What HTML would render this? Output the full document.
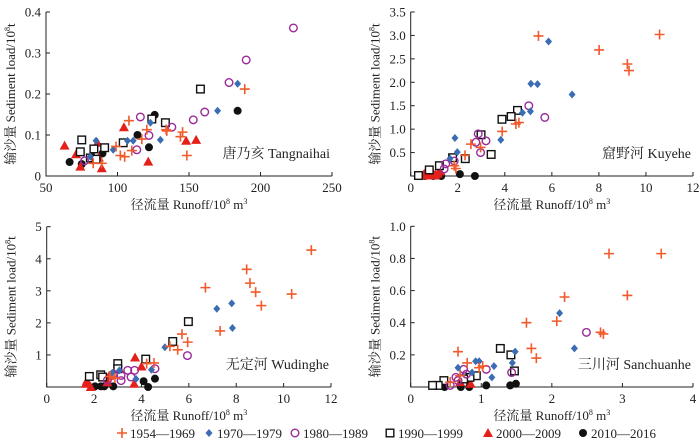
<!DOCTYPE html>
<html><head><meta charset="utf-8"><style>
html,body{margin:0;padding:0;background:#fff;}
svg{display:block;font-family:"Liberation Serif","Noto Serif CJK SC",serif;}
</style></head><body>
<svg id="chart" width="700" height="442" viewBox="0 0 700 442" xmlns="http://www.w3.org/2000/svg"></svg>
<script>
// ---- Panel 1: Tangnaihai ----
const tnX1954=[108,99,102,105,110,117,120.5,134,134.5,144,145.5,148.5,189,89,83];
const tnY1954=[0.135,0.072,0.05,0.047,0.062,0.09,0.113,0.113,0.11,0.096,0.107,0.05,0.212,0.031,0.031];
const tnX1970=[184,170,130,123,111,107,97,85,81];
const tnY1970=[0.225,0.159,0.088,0.13,0.086,0.086,0.064,0.086,0.047];
const tnX1980=[223,190,178,161,153,138,122,116,113.5,77];
const tnY1980=[0.361,0.283,0.228,0.156,0.137,0.119,0.099,0.144,0.064,0.037];
const tnX1990=[158,133.5,124,104,91,83.5,81,85,75,74];
const tnY1990=[0.212,0.13,0.139,0.081,0.069,0.066,0.044,0.041,0.088,0.059];
const tnX2000=[63,71,74,86,87,89,104.5,121.5,148,155];
const tnY2000=[0.074,0.053,0.023,0.081,0.045,0.019,0.119,0.035,0.086,0.088];
const tnX2010=[66.5,75,89.5,114,122,126,184];
const tnY2010=[0.034,0.029,0.055,0.1,0.07,0.149,0.159];
// ---- Panel 2: Kuyehe ----
const kyX1954=[5.43,10.58,8.01,9.21,9.28,3.89,4.47,4.6,2.56,2.97,2.31,1.85,1.92];
const kyY1954=[2.99,3.02,2.69,2.39,2.25,0.95,1.11,1.14,0.68,0.61,0.44,0.22,0.16];
const kyX1970=[5.86,5.11,5.39,6.86,5.09,4.75,3.83,1.88,1.98,1.67];
const kyY1970=[2.87,1.97,1.96,1.74,1.38,1.35,0.77,0.81,0.51,0.37];
const kyX1980=[5.02,5.7,2.87,2.77,3.2,2.97,1.85,1.49,1.42];
const kyY1980=[1.5,1.25,0.9,0.72,0.75,0.5,0.32,0.26,0.15];
const kyX1990=[4.54,4.27,3.88,2.99,3.42,2.32,1.78,1.22,0.79,0.33];
const kyY1990=[1.4,1.27,1.21,0.88,0.46,0.37,0.39,0.22,0.13,0.01];
const kyX2000=[0.55,0.65,0.75,0.85,0.95,1.05,1.15,1.25,0.6,1.0];
const kyY2000=[0.03,0.01,0.04,0.02,0.06,0.03,0.05,0.1,0.05,0.01];
const kyX2010=[2.09,2.73,1.3,0.96,0.6];
const kyY2010=[0.04,0,0,0,0];
// ---- Panel 3: Wudinghe ----
const wdX1954=[11.17,8.44,8.58,8.82,9.06,10.34,6.7,7.32,5.71,5.95,5.53,5.2,4.53,4.22,2.88,2.67];
const wdY1954=[4.27,3.67,3.24,2.96,2.54,2.9,3.1,1.75,1.65,1.4,1.16,1.27,0.75,0.73,0.28,0.33];
const wdX1970=[7.81,7.18,7.84,4.99,4.42,3.77,3.07,2.77];
const wdY1970=[2.61,2.44,1.84,1.24,0.54,0.25,0.52,0.44];
const wdX1980=[5.94,4.57,3.71,3.42,3.14,3.14,3.56,2.81,2.56];
const wdY1980=[0.98,0.57,0.52,0.52,0.36,0.2,0.31,0.4,0.21];
const wdX1990=[5.98,5.32,4.18,3.0,3.0,2.28,2.36,1.8];
const wdY1990=[2.04,1.42,0.87,0.73,0.57,0.38,0.31,0.33];
const wdX2000=[3.73,4.0,3.69,3.07,2.64,2.56,1.65,1.86,1.7];
const wdY2000=[0.92,0.64,0.1,0.56,0.35,0.15,0.1,0,0.2];
const wdX2010=[2.04,2.29,2.43,2.81,4.09,4.28,4.57];
const wdY2010=[0.02,0.02,0.02,0.02,0.18,0,0.26];
// ---- Panel 4: Sanchuanhe ----
const scX1954=[2.81,3.55,3.07,2.18,2.07,1.64,2.69,2.73,1.71,1.78,0.67,0.8,0.97,1.02,0.7,0.56];
const scY1954=[0.83,0.83,0.57,0.56,0.41,0.4,0.34,0.33,0.24,0.18,0.22,0.15,0.12,0.13,0.07,0.03];
const scX1970=[2.11,2.32,1.48,1.44,0.92,0.97,1.18,1.15,0.67,0.87];
const scY1970=[0.46,0.24,0.22,0.15,0.16,0.16,0.13,0.06,0.12,0.09];
const scX1980=[2.49,1.07,1.43,0.75,0.79,0.64,0.56,0.67];
const scY1980=[0.34,0.11,0.09,0.11,0.08,0.06,0.01,0.04];
const scX1990=[1.27,1.42,1.47,0.93,0.84,0.75,0.47,0.39,0.31];
const scY1990=[0.24,0.2,0.1,0.07,0.06,0.05,0.04,0.01,0.01];
const scX2000=[0.7,0.85];
const scY2000=[0.03,0.02];
const scX2010=[0.48,0.71,0.83,0.82,1.07,1.41,1.49];
const scY2010=[0,0,0,0.04,0.01,0.01,0.02];
// tick labels
const tnXTicks=[50,100,150,200,250];
const tnYTicks=["0","0.1","0.2","0.3","0.4"];
const kyXTicks=[0,2,4,6,8,10,12];
const kyYTicks=["0.5","1.0","1.5","2.0","2.5","3.0","3.5"];
const wdXTicks=[0,2,4,6,8,10,12];
const wdYTicks=["1","2","3","4","5"];
const scXTicks=[0,1,2,3,4];
const scYTicks=["0.2","0.4","0.6","0.8","1.0"];
const legendLabels=["1954—1969","1970—1979","1980—1989","1990—1999","2000—2009","2010—2016"];

const NS="http://www.w3.org/2000/svg";
const svg=document.getElementById('chart');
function mk(tag,attrs,parent){const e=document.createElementNS(NS,tag);for(const k in attrs)e.setAttribute(k,attrs[k]);(parent||svg).appendChild(e);return e;}
const COL={plus:"#f15a2b",dia:"#3b6db3",circ:"#9a2a98",sq:"#111",tri:"#e5201b",dot:"#111"};
function marker(type,cx,cy,g){
  let e;
  if(type==='plus'){e=mk('path',{d:`M${cx-5} ${cy}H${cx+5}M${cx} ${cy-5}V${cy+5}`,stroke:COL.plus,'stroke-width':1.6,fill:'none'},g);}
  else if(type==='dia'){e=mk('path',{d:`M${cx} ${cy-4}L${cx+3.5} ${cy}L${cx} ${cy+4}L${cx-3.5} ${cy}Z`,fill:COL.dia},g);}
  else if(type==='circ'){e=mk('circle',{cx:cx,cy:cy,r:3.8,fill:'none',stroke:COL.circ,'stroke-width':1.4},g);}
  else if(type==='sq'){e=mk('rect',{x:cx-3.8,y:cy-3.8,width:7.6,height:7.6,fill:'#fff',stroke:COL.sq,'stroke-width':1.4},g);}
  else if(type==='tri'){e=mk('path',{d:`M${cx} ${cy-5}L${cx+5} ${cy+4}L${cx-5} ${cy+4}Z`,fill:COL.tri},g);}
  else {e=mk('circle',{cx:cx,cy:cy,r:4,fill:COL.dot},g);}
  return e;
}
function panel(p){
  const g=mk('g',{});
  
  
  const sx=v=>p.x0+(v-p.xmin)/(p.xmax-p.xmin)*(p.x1-p.x0);
  const sy=v=>p.y0-(v-p.ymin)/(p.ymax-p.ymin)*(p.y0-p.y1);
  const ax=mk('path',{d:`M${p.x0} ${p.y1}V${p.y0}H${p.x1}`,stroke:'#222','stroke-width':1,fill:'none'},g);
  
  
  p.xt.forEach(v=>{
    const x=sx(v);
    mk('line',{x1:x,x2:x,y1:p.y0,y2:p.y0-4,stroke:'#222'},g);
    const t=mk('text',{x:x,y:p.y0+16,'text-anchor':'middle','font-size':13,fill:'#222'},g);
    t.textContent=v;
    
    
  });
  p.yt.forEach(s=>{
    const y=sy(parseFloat(s));
    mk('line',{x1:p.x0,x2:p.x0+4,y1:y,y2:y,stroke:'#222'},g);
    const t=mk('text',{x:p.x0-5,y:y+4.5,'text-anchor':'end','font-size':13,fill:'#222'},g);
    t.textContent=s;
    
    
  });
  const xt=mk('text',{x:(p.x0+p.x1)/2,y:p.y0+33,'text-anchor':'middle','font-size':13,fill:'#222'},g);
  xt.innerHTML='径流量 Runoff/10<tspan dy="-5" font-size="8">8</tspan><tspan dy="5"> m</tspan><tspan dy="-5" font-size="8">3</tspan>';
  
  
  const cyT=(p.y0+p.y1)/2;
  const yt=mk('text',{x:p.x0-31,y:cyT,'text-anchor':'middle','font-size':13,fill:'#222',transform:`rotate(-90 ${p.x0-31} ${cyT})`},g);
  yt.innerHTML='输沙量 Sediment load/10<tspan dy="-5" font-size="8">8</tspan><tspan dy="5">t</tspan>';
  
  
  const lb=mk('text',{x:p.x1-2,y:p.y0-18,'text-anchor':'end','font-size':14,fill:'#222'},g);
  lb.textContent=p.label;
  
  
  const types=['plus','dia','circ','sq','tri','dot'];
  const order=[5,4,3,2,1,0];
  order.forEach(i=>{
    p.series[i][0].forEach((xv,j)=>{
      const m=marker(types[i],sx(xv),sy(p.series[i][1][j]),g);
      
      
    });
  });
}
panel({name:'tangnaihai',label:'唐乃亥 Tangnaihai',x0:46,x1:332,y0:176,y1:12,xmin:50,xmax:250,ymin:0,ymax:0.4,xt:tnXTicks,yt:tnYTicks,
  series:[[tnX1954,tnY1954],[tnX1970,tnY1970],[tnX1980,tnY1980],[tnX1990,tnY1990],[tnX2000,tnY2000],[tnX2010,tnY2010]]});
panel({name:'kuyehe',label:'窟野河 Kuyehe',x0:410.7,x1:693,y0:176,y1:12,xmin:0,xmax:12,ymin:0,ymax:3.5,xt:kyXTicks,yt:kyYTicks,
  series:[[kyX1954,kyY1954],[kyX1970,kyY1970],[kyX1980,kyY1980],[kyX1990,kyY1990],[kyX2000,kyY2000],[kyX2010,kyY2010]]});
panel({name:'wudinghe',label:'无定河 Wudinghe',x0:46.7,x1:331,y0:387,y1:226.7,xmin:0,xmax:12,ymin:0,ymax:5,xt:wdXTicks,yt:wdYTicks,
  series:[[wdX1954,wdY1954],[wdX1970,wdY1970],[wdX1980,wdY1980],[wdX1990,wdY1990],[wdX2000,wdY2000],[wdX2010,wdY2010]]});
panel({name:'sanchuanhe',label:'三川河 Sanchuanhe',x0:410.7,x1:693,y0:387,y1:226.3,xmin:0,xmax:4,ymin:0,ymax:1,xt:scXTicks,yt:scYTicks,
  series:[[scX1954,scY1954],[scX1970,scY1970],[scX1980,scY1980],[scX1990,scY1990],[scX2000,scY2000],[scX2010,scY2010]]});
// legend
const lg=mk('g',{});


const legX=[122,209,295,390,488,583];
const lt=['plus','dia','circ','sq','tri','dot'];
legendLabels.forEach((s,i)=>{
  const e=mk('g',{},lg);
  
  
  marker(lt[i],legX[i],433,e);
  const t=mk('text',{x:legX[i]+8,y:438,'font-size':13,fill:'#222'},e);
  t.textContent=s;
});
</script>
</body></html>
